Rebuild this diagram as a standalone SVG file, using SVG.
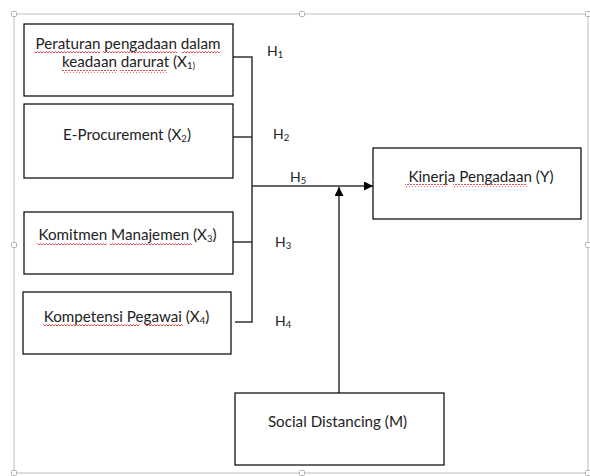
<svg xmlns="http://www.w3.org/2000/svg" width="590" height="476" viewBox="0 0 590 476">
  <defs>
    <pattern id="squig" patternUnits="userSpaceOnUse" width="3" height="3" x="0" y="0">
      <path d="M0,2 L1.5,0.5 L3,2" fill="none" stroke="#e02020" stroke-width="0.8"/>
    </pattern>
    <marker id="arrow" viewBox="0 0 10 10" refX="10" refY="5" markerWidth="9" markerHeight="9" markerUnits="userSpaceOnUse" orient="auto">
      <path d="M0,0 L10,5 L0,10 Z" fill="#000"/>
    </marker>
  </defs>
  <style>
    .box { fill: #fff; stroke: #000; stroke-width: 1.2; }
    .lbl { font-family: Lato, "Open Sans", sans-serif; font-size: 15.2px; fill: #222; text-anchor: middle; }
    .h { font-family: Lato, "Open Sans", sans-serif; font-size: 14px; fill: #222; }
    .sub { font-size: 9.5px; }
    .conn { fill: none; stroke: #333; stroke-width: 1.5; }
    .frame { fill: none; stroke: #c8c8c8; stroke-width: 1.2; }
    .handle { fill: #fff; stroke: #b0b0b0; stroke-width: 1; }
    .sq { fill: url(#squig); }
  </style>
  <rect width="590" height="476" fill="#fff"/>

  <g id="frame">
    <rect class="frame" x="14" y="14" width="574" height="459"/>
    <rect class="handle" x="11.5" y="11.5" width="5" height="5" rx="1"/>
    <rect class="handle" x="299.5" y="11.5" width="5" height="5" rx="1"/>
    <rect class="handle" x="585.5" y="11.5" width="5" height="5" rx="1"/>
    <rect class="handle" x="11.5" y="242.5" width="5" height="5" rx="1"/>
    <rect class="handle" x="585.5" y="242.5" width="5" height="5" rx="1"/>
    <rect class="handle" x="11.5" y="470.5" width="5" height="5" rx="1"/>
    <rect class="handle" x="299.5" y="470.5" width="5" height="5" rx="1"/>
    <rect class="handle" x="585.5" y="470.5" width="5" height="5" rx="1"/>
  </g>

  <g id="connectors">
    <path class="conn" d="M233,57 H252 V322 H235"/>
    <path class="conn" d="M233,137 H252"/>
    <path class="conn" d="M233,242 H252"/>
    <path class="conn" d="M252,186 H373" marker-end="url(#arrow)"/>
    <path class="conn" d="M339,393 V187" marker-end="url(#arrow)"/>
    <text class="h" x="267" y="56">H<tspan class="sub" dy="2">1</tspan></text>
    <text class="h" x="273" y="139">H<tspan class="sub" dy="2">2</tspan></text>
    <text class="h" x="290" y="182">H<tspan class="sub" dy="2">5</tspan></text>
    <text class="h" x="275" y="247">H<tspan class="sub" dy="2">3</tspan></text>
    <text class="h" x="275" y="326">H<tspan class="sub" dy="2">4</tspan></text>
  </g>

  <g id="node-x1">
    <rect class="box" x="24" y="24" width="209" height="72"/>
    <text class="lbl" x="128" y="49">Peraturan pengadaan dalam</text>
    <text class="lbl" x="128.5" y="67">keadaan darurat (X<tspan class="sub" dy="2">1)</tspan></text>
    <rect class="sq" x="35" y="51" width="65" height="3"/>
    <rect class="sq" x="103" y="51" width="74" height="3"/>
    <rect class="sq" x="182" y="51" width="38" height="3"/>
    <rect class="sq" x="62" y="70" width="55" height="3"/>
    <rect class="sq" x="120" y="70" width="47" height="3"/>
  </g>

  <g id="node-x2">
    <rect class="box" x="24" y="104" width="209" height="74"/>
    <text class="lbl" x="127" y="140">E-Procurement (X<tspan class="sub" dy="2">2</tspan><tspan dy="-2">)</tspan></text>
  </g>

  <g id="node-x3">
    <rect class="box" x="24" y="212" width="209" height="62"/>
    <text class="lbl" x="127.5" y="240">Komitmen Manajemen (X<tspan class="sub" dy="2">3</tspan><tspan dy="-2">)</tspan></text>
    <rect class="sq" x="37" y="243" width="70" height="3"/>
    <rect class="sq" x="110" y="243" width="82" height="3"/>
  </g>

  <g id="node-x4">
    <rect class="box" x="23" y="292" width="208" height="62"/>
    <text class="lbl" x="126.5" y="322">Kompetensi Pegawai (X<tspan class="sub" dy="2">4</tspan><tspan dy="-2">)</tspan></text>
    <rect class="sq" x="43" y="324" width="97" height="3"/>
    <rect class="sq" x="145" y="324" width="38" height="3"/>
  </g>

  <g id="node-y">
    <rect class="box" x="373" y="148" width="208" height="71"/>
    <text class="lbl" x="481" y="182">Kinerja Pengadaan (Y)</text>
    <rect class="sq" x="405" y="184" width="43" height="3"/>
    <rect class="sq" x="453" y="184" width="74" height="3"/>
  </g>

  <g id="node-m">
    <rect class="box" x="235" y="393" width="209" height="72"/>
    <text class="lbl" x="337.5" y="427">Social Distancing (M)</text>
  </g>
</svg>
